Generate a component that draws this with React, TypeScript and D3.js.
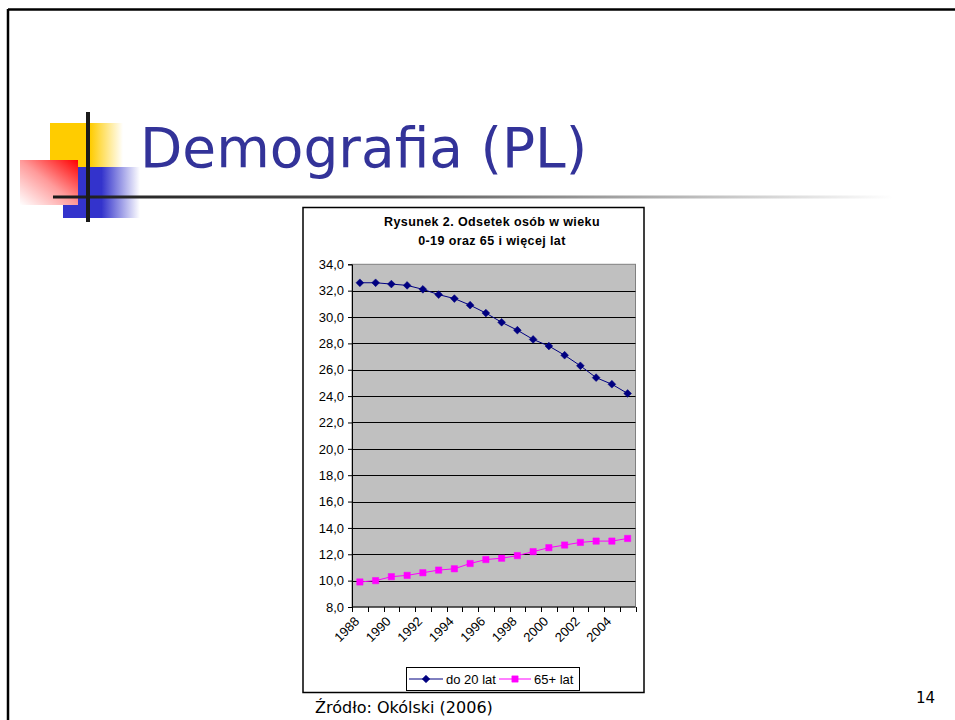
import React, { useEffect, useRef } from "react";
import * as d3 from "d3";

const years = [
  "1988", "1989", "1990", "1991", "1992", "1993", "1994", "1995", "1996",
  "1997", "1998", "1999", "2000", "2001", "2002", "2003", "2004", "2005"
];
const under20 = [
  32.6, 32.6, 32.5, 32.4, 32.1, 31.7, 31.4, 30.9, 30.3,
  29.6, 29.0, 28.3, 27.8, 27.1, 26.3, 25.4, 24.9, 24.2
];
const over65 = [
  9.9, 10.0, 10.3, 10.4, 10.6, 10.8, 10.9, 11.3, 11.6,
  11.7, 11.9, 12.2, 12.5, 12.7, 12.9, 13.0, 13.0, 13.2
];
const yTicks = [8, 10, 12, 14, 16, 18, 20, 22, 24, 26, 28, 30, 32, 34];
const xLabels = ["1988", "1990", "1992", "1994", "1996", "1998", "2000", "2002", "2004"];
const seriesNames = ["do 20 lat", "65+ lat"];

export default function App() {
  const ref = useRef(null);

  useEffect(() => {
    const svg = d3.select(ref.current);
    const chartFont = "'Liberation Sans', Arial, sans-serif";
    const slideFont = "'DejaVu Sans', Verdana, sans-serif";
    const plot = { left: 352, right: 635.5, top: 264.3, bottom: 607 };

    const defs = svg.append("defs");
    const grad = (id, x1, y1, x2, y2, stops) => {
      const g = defs
        .append("linearGradient")
        .attr("id", id)
        .attr("x1", x1)
        .attr("y1", y1)
        .attr("x2", x2)
        .attr("y2", y2);
      stops.forEach(([o, c]) => g.append("stop").attr("offset", o).attr("stop-color", c));
    };
    grad("yel", "0", "0", "1", "0", [[0, "#FFCC00"], [0.55, "#FFCC00"], [1, "#FFFFFF"]]);
    grad("blu", "0", "0", "1", "0", [[0, "#3333CC"], [0.5, "#3333CC"], [1, "#FFFFFF"]]);
    grad("red", "1", "0", "0", "1", [[0, "#FF0000"], [0.5, "#FF9A9A"], [1, "#FFFFFF"]]);
    grad("rule", "0", "0", "1", "0", [[0, "#1a1a1a"], [0.4, "#555555"], [0.7, "#aaaaaa"], [1, "#FFFFFF"]]);

    // slide frame
    svg.append("line").attr("x1", 8).attr("x2", 955).attr("y1", 9.5).attr("y2", 9.5)
      .attr("stroke", "#000").attr("stroke-width", 2.5);
    svg.append("line").attr("x1", 8).attr("x2", 8).attr("y1", 9).attr("y2", 720)
      .attr("stroke", "#000").attr("stroke-width", 2.5);

    // title decoration
    svg.append("rect").attr("x", 50).attr("y", 123).attr("width", 73).attr("height", 45).attr("fill", "url(#yel)");
    svg.append("rect").attr("x", 63).attr("y", 167).attr("width", 77).attr("height", 51).attr("fill", "url(#blu)");
    svg.append("rect").attr("x", 20).attr("y", 160).attr("width", 58).attr("height", 45).attr("fill", "url(#red)");
    svg.append("rect").attr("x", 53).attr("y", 195.5).attr("width", 840).attr("height", 3).attr("fill", "url(#rule)");
    svg.append("rect").attr("x", 86).attr("y", 112).attr("width", 4).attr("height", 110).attr("fill", "#1a1a1a");

    svg.append("text")
      .attr("x", 140)
      .attr("y", 167)
      .attr("font-family", slideFont)
      .attr("font-size", 55)
      .attr("fill", "#333399")
      .text("Demografia (PL)");

    // chart box
    svg.append("rect").attr("x", 303).attr("y", 207.5).attr("width", 341).attr("height", 485)
      .attr("fill", "#fff").attr("stroke", "#000").attr("stroke-width", 1.5);

    const title = svg.append("text")
      .attr("text-anchor", "middle")
      .attr("font-family", chartFont)
      .attr("font-weight", "bold")
      .attr("font-size", 12.5)
      .attr("letter-spacing", 0.4);
    title.append("tspan").attr("x", 492).attr("y", 226).text("Rysunek 2. Odsetek osób w wieku");
    title.append("tspan").attr("x", 492).attr("y", 245).text("0-19 oraz 65 i więcej lat");

    const x = d3.scaleBand().domain(years).range([plot.left, plot.right]).padding(0);
    const y = d3.scaleLinear().domain([8, 34]).range([plot.bottom, plot.top]);
    const cx = d => x(d) + x.bandwidth() / 2;

    svg.append("rect")
      .attr("x", plot.left).attr("y", plot.top)
      .attr("width", plot.right - plot.left).attr("height", plot.bottom - plot.top)
      .attr("fill", "#C0C0C0").attr("stroke", "#808080").attr("stroke-width", 1);

    svg.append("g")
      .selectAll("line")
      .data(yTicks.filter(t => t > 8 && t < 34))
      .join("line")
      .attr("x1", plot.left).attr("x2", plot.right)
      .attr("y1", d => Math.round(y(d)) + 0.5).attr("y2", d => Math.round(y(d)) + 0.5)
      .attr("stroke", "#000");

    // y axis
    const yAxis = svg.append("g")
      .attr("transform", `translate(${plot.left},0)`)
      .call(d3.axisLeft(y).tickValues(yTicks).tickSize(4).tickPadding(4)
        .tickFormat(d => d3.format(".1f")(d).replace(".", ",")));
    yAxis.select(".domain").attr("stroke", "#000");
    yAxis.selectAll(".tick text").attr("font-family", chartFont).attr("font-size", 13).attr("fill", "#000");

    // x axis
    const xg = svg.append("g");
    xg.append("line").attr("x1", plot.left).attr("x2", plot.right)
      .attr("y1", plot.bottom).attr("y2", plot.bottom).attr("stroke", "#000");
    xg.selectAll("line.tk")
      .data([...years.map(d => x(d)), plot.right])
      .join("line")
      .attr("class", "tk")
      .attr("x1", d => Math.round(d) + 0.5).attr("x2", d => Math.round(d) + 0.5)
      .attr("y1", plot.bottom).attr("y2", plot.bottom + 5)
      .attr("stroke", "#000");
    xg.selectAll("text")
      .data(xLabels)
      .join("text")
      .attr("transform", d => `translate(${cx(d) - 3},${plot.bottom + 12}) rotate(-45)`)
      .attr("text-anchor", "end")
      .attr("dy", "0.35em")
      .attr("font-family", chartFont)
      .attr("font-size", 13)
      .text(d => d);

    // series
    const series = [
      { name: seriesNames[0], values: under20, color: "#000080", shape: "diamond" },
      { name: seriesNames[1], values: over65, color: "#FF00FF", shape: "square" }
    ];
    const line = d3.line().x((d, i) => cx(years[i])).y(d => y(d));
    const marker = (sel, shape, color) =>
      sel.append("path")
        .attr("d", shape === "diamond" ? d3.symbol(d3.symbolSquare, 30)() : d3.symbol(d3.symbolSquare, 40)())
        .attr("fill", color)
        .attr("stroke", color)
        .attr("stroke-width", 0.5);

    series.forEach(s => {
      svg.append("path").attr("d", line(s.values)).attr("fill", "none")
        .attr("stroke", s.color).attr("stroke-width", 1);
      s.values.forEach((v, i) => {
        const g = svg.append("g").attr("transform",
          `translate(${cx(years[i])},${y(v)})${s.shape === "diamond" ? " rotate(45)" : ""}`);
        marker(g, s.shape, s.color);
      });
    });

    // legend
    const lg = svg.append("g");
    lg.append("rect").attr("x", 406.5).attr("y", 667.5).attr("width", 173).attr("height", 23)
      .attr("fill", "#fff").attr("stroke", "#000");
    const legendPos = [
      { x1: 409, x2: 443, text: 446 },
      { x1: 499, x2: 531, text: 534 }
    ];
    series.forEach((s, i) => {
      const p = legendPos[i];
      lg.append("line").attr("x1", p.x1).attr("x2", p.x2).attr("y1", 679).attr("y2", 679)
        .attr("stroke", s.color);
      const g = lg.append("g").attr("transform",
        `translate(${(p.x1 + p.x2) / 2},679)${s.shape === "diamond" ? " rotate(45)" : ""}`);
      marker(g, s.shape, s.color);
      lg.append("text").attr("x", p.text).attr("y", 683.5)
        .attr("font-family", chartFont).attr("font-size", 13).text(s.name);
    });

    svg.append("text").attr("x", 315).attr("y", 713)
      .attr("font-family", slideFont).attr("font-size", 16).attr("fill", "#000")
      .text("Źródło: Okólski (2006)");
    svg.append("text").attr("x", 916).attr("y", 703)
      .attr("font-family", slideFont).attr("font-size", 15).attr("fill", "#000")
      .text("14");

    return () => {
      svg.html("");
    };
  }, []);

  return (
    <svg
      ref={ref}
      width={955}
      height={720}
      style={{ position: "absolute", left: 0, top: 0, background: "#fff" }}
    />
  );
}
